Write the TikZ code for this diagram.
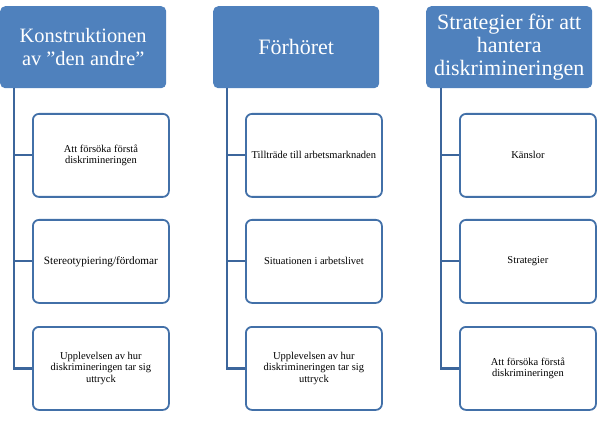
\documentclass[tikz,border=0pt]{standalone}
\usepackage{fontspec}
\setmainfont{Liberation Serif}
\definecolor{hdr}{RGB}{79,129,189}
\definecolor{edgeblue}{RGB}{66,112,168}
\definecolor{connblue}{RGB}{60,102,156}
\begin{document}
\begin{tikzpicture}[x=1pt,y=-1pt,
  head/.style={draw=none, fill=hdr, rounded corners=5pt, minimum width=166pt, minimum height=82pt,
    text=white, font=\fontsize{22}{23}\selectfont, align=center, inner sep=0pt, anchor=north west},
  item/.style={draw=edgeblue, line width=1.8pt, fill=white, rounded corners=6pt,
    minimum width=136pt, minimum height=83pt, font=\fontsize{10.5}{11.8}\selectfont,
    align=center, inner sep=0pt, anchor=north west},
  conn/.style={draw=connblue, line width=2.2pt}]
\path[use as bounding box] (0,0) rectangle (600,422);
% column 1
\node[head, font=\fontsize{20.4}{23}\selectfont] (h1) at (0,6) {Konstruktionen\\av \char"22den andre\char"22};
\coordinate (t1) at (14,88);
\node[item] (c11) at (32,113) {Att försöka förstå\\diskrimineringen};
\node[item, font=\fontsize{11.2}{12}\selectfont] (c12) at (32,219) {Stereotypiering/fördomar};
\node[item] (c13) at (32,326) {Upplevelsen av hur\\diskrimineringen tar sig\\uttryck};
% column 2
\node[head] (h2) at (213,6) {Förhöret};
\coordinate (t2) at (227,88);
\node[item] (c21) at (245,113) {Tillträde till arbetsmarknaden};
\node[item] (c22) at (245,219) {Situationen i arbetslivet};
\node[item] (c23) at (245,326) {Upplevelsen av hur\\diskrimineringen tar sig\\uttryck};
% column 3
\node[head] (h3) at (426,6) {Strategier för att\\hantera\\diskrimineringen};
\coordinate (t3) at (441,88);
\node[item] (c31) at (459,113) {Känslor};
\node[item] (c32) at (459,219) {Strategier};
\node[item] (c33) at (459,326) {Att försöka förstå\\diskrimineringen};
% connectors
\foreach \c in {1,2,3}{
  \foreach \r in {1,2,3}{
    \draw[conn] (t\c) |- (c\c\r.west);
  }
}
\end{tikzpicture}
\end{document}
